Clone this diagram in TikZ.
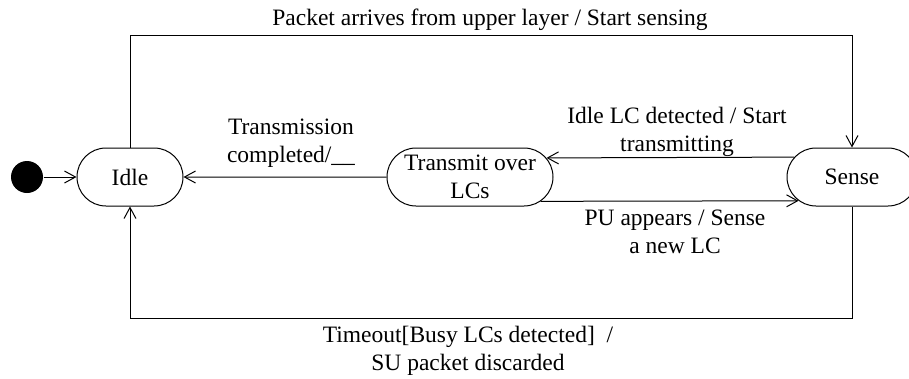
\documentclass[tikz,border=0pt]{standalone}
\usepackage{fontspec}
\setmainfont{Liberation Serif}
\usetikzlibrary{arrows.meta,shapes.misc}
\begin{document}
\begin{tikzpicture}[x=1pt,y=-1pt,
  >={Straight Barb[length=11pt,width=12pt]},
  line width=1pt,
  txt/.style={font=\fontsize{23.5}{28}\selectfont},
  state/.style={draw, rounded rectangle, minimum height=58pt, inner sep=0pt, align=center, txt},
  lbl/.style={inner sep=0pt, align=center, txt}]
\useasboundingbox (0,0) rectangle (909,378);
\node[circle, fill=black, minimum size=32pt, inner sep=0pt] (init) at (27,177) {};
\node[state, minimum width=106pt] (idle) at (130,177) {Idle};
\node[state, minimum width=166pt] (tx) at (470,177) {\makebox[100pt]{Transmit over}\\LCs};
\node[state, minimum width=130pt] (sense) at (852,177) {Sense};
\coordinate (topy) at (0,35);
\coordinate (boty) at (0,318);
\draw[->] (init) -- (idle);
\draw[->] (tx) -- (idle);
\draw[->] (sense.161.83) -- (tx.14.05);
\draw[->] (tx.341.15) -- (sense.204.66);
\draw[->] (idle.north) |- (sense.north |- topy) -- (sense.north);
\draw[->] (sense.south) |- (idle.south |- boty) -- (idle.south);
\node[lbl] (l1) at (490,19.5) {Packet arrives from upper layer / Start sensing};
\node[lbl] (l2) at (291,143.5) {Transmission\\completed/\_\_};
\node[lbl] (l3) at (677,131.5) {Idle LC detected / Start\\transmitting};
\node[lbl] (l4) at (675,232) {PU appears / Sense\\a new LC};
\node[lbl] (l5) at (468,350.5) {Timeout[Busy LCs detected]\ \ /\\SU packet discarded};
\end{tikzpicture}
\end{document}
